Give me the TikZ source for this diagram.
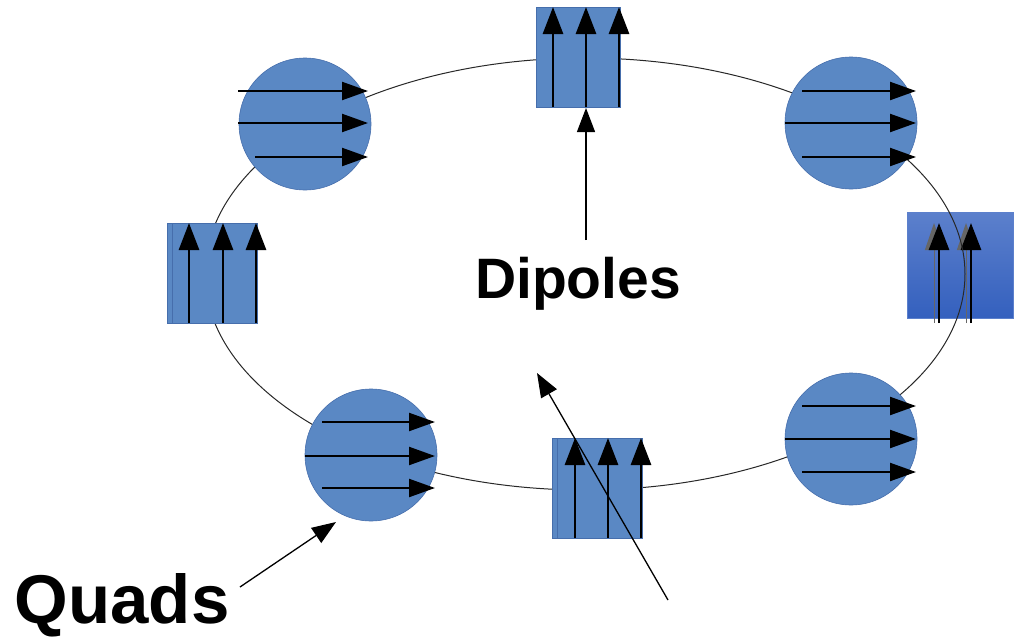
\documentclass[tikz,border=0pt]{standalone}
\usepackage{fontspec}
\setmainfont{Liberation Sans}
\usetikzlibrary{arrows.meta}
\definecolor{magblue}{RGB}{90,136,196}
\definecolor{magedge}{RGB}{70,110,172}
\definecolor{dipdark}{RGB}{52,96,190}
\definecolor{diplight}{RGB}{92,128,204}
\definecolor{ringgray}{RGB}{40,40,40}
\tikzset{
  quadnode/.style={circle, fill=magblue, draw=magedge, line width=0.6pt, minimum size=132pt, inner sep=0pt},
  dipnode/.style={rectangle, fill=magblue, draw=magedge, line width=0.6pt, inner sep=0pt},
  fieldh/.style={line width=2.2pt, -{Triangle[length=26pt,width=18pt]}},
  fieldv/.style={line width=2.8pt, -{Triangle[length=27pt,width=20pt]}},
  fieldthin/.style={line width=1pt, draw=black!60, -{Triangle[length=27pt,width=18pt]}},
  pointer/.style={line width=1.3pt, -{Triangle[length=24pt,width=18pt]}},
  ring/.style={draw=ringgray, line width=1pt},
  labeltext/.style={inner sep=0pt, anchor=base, font=\bfseries}
}
\begin{document}
\begin{tikzpicture}[x=1pt,y=-1pt]
\useasboundingbox (0,0) rectangle (1015,637);
% right dipole (beneath the ring)
\node[dipnode, draw=diplight, top color=diplight, bottom color=dipdark, minimum width=106pt, minimum height=106pt] (dr) at (960,265) {};
\draw[fieldthin] (934,323) -- (934,223);
\draw[fieldv] (939,323) -- (939,223);
\draw[fieldthin] (966,323) -- (966,223);
\draw[fieldv] (971,323) -- (971,223);
% ring
\draw[ring] (585,274) ellipse [x radius=380pt, y radius=216pt];
% quads
\node[quadnode] (qtl) at (305,124) {};
\node[quadnode] (qtr) at (851,123) {};
\node[quadnode] (qbr) at (851,439) {};
\node[quadnode] (qbl) at (371,455) {};
\draw[fieldh] (238,91) -- (368,91);
\draw[fieldh] (238,123) -- (368,123);
\draw[fieldh] (255,157) -- (368,157);
\draw[fieldh] (802,91) -- (916,91);
\draw[fieldh] (785,123) -- (916,123);
\draw[fieldh] (802,157) -- (916,157);
\draw[fieldh] (802,406) -- (916,406);
\draw[fieldh] (785,439) -- (916,439);
\draw[fieldh] (802,472) -- (916,472);
\draw[fieldh] (322,422) -- (435,422);
\draw[fieldh] (305,456) -- (435,456);
\draw[fieldh] (322,488) -- (435,488);
% dipoles
\node[dipnode, minimum width=84pt, minimum height=100pt] (dt) at (578,57) {};
\node[dipnode, minimum width=90pt, minimum height=100pt] (dl) at (212,273) {};
\node[dipnode, minimum width=90pt, minimum height=100pt] (db) at (597,488) {};
\draw[magedge, line width=0.8pt] (172,223) -- (172,323);
\draw[magedge, line width=0.8pt] (557,438) -- (557,538);
\foreach \x in {553,586,619} \draw[fieldv] (\x,107) -- (\x,7);
\foreach \x in {189,223,256} \draw[fieldv] (\x,323) -- (\x,223);
\foreach \x in {575,608,641} \draw[fieldv] (\x,538) -- (\x,438);
% labels
\node[labeltext, font=\bfseries\fontsize{57}{68}\selectfont] (dip) at (578,298) {Dipoles};
\node[labeltext, font=\bfseries\fontsize{69}{80}\selectfont] (quad) at (122,623) {Quads};
% pointers
\coordinate (dipfrom) at (586,240);
\coordinate (dipto) at (586,108);
\draw[pointer] (dipfrom) -- (dipto);
\coordinate (quadfrom) at (240,587);
\coordinate (quadto) at (336,522);
\draw[pointer] (quadfrom) -- (quadto);
\coordinate (diagfrom) at (668,600);
\coordinate (diagto) at (537,373);
\draw[pointer] (diagfrom) -- (diagto);
\end{tikzpicture}
\end{document}
